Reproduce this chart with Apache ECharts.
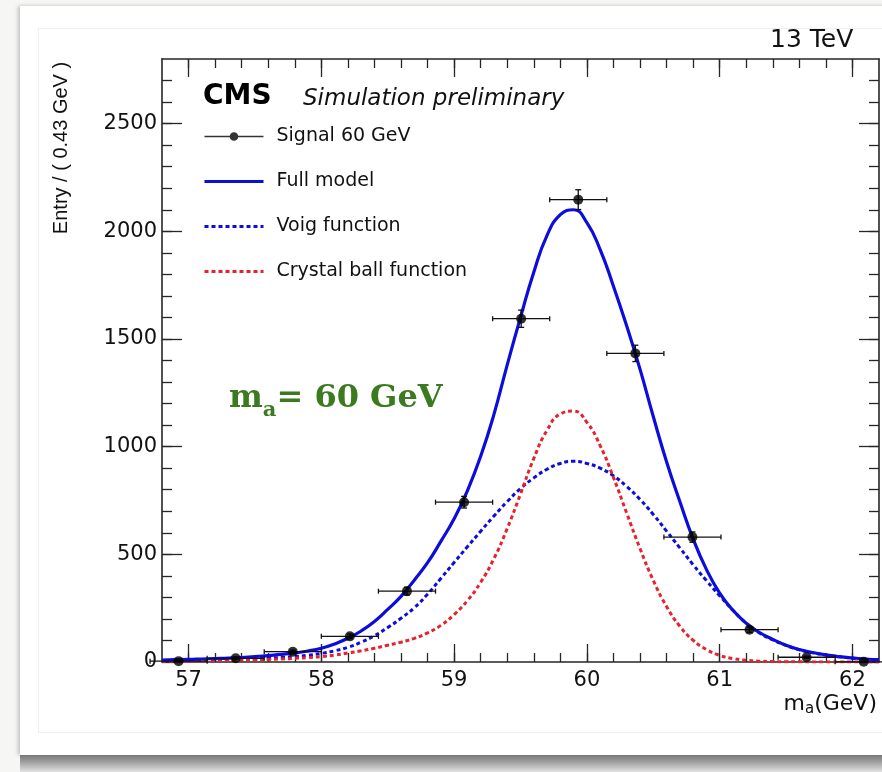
<!DOCTYPE html>
<html>
<head>
<meta charset="utf-8">
<title>m_a = 60 GeV</title>
<script src="https://cdn.jsdelivr.net/npm/echarts@6.0.0/dist/echarts.min.js"></script>
<style>
  html, body { margin: 0; padding: 0; width: 882px; height: 772px; overflow: hidden; background: #f6f6f4; }
  .card { position: absolute; left: 20px; top: 6px; width: 880px; height: 749px; background: #fff; box-shadow: -2px 0 4px rgba(0,0,0,0.22); }
  .card .frame { position: absolute; left: 18px; top: 22px; width: 900px; height: 703px; border: 1px solid #efefef; }
  .shadow { position: absolute; left: 20px; top: 755px; width: 880px; height: 17px; background: linear-gradient(to bottom, #777, #a4a4a4 45%, #e2e2e2); }
  #main { position: absolute; left: 0; top: 0; width: 882px; height: 772px; }
</style>
</head>
<body>
<div class="card"><div class="frame"></div></div>
<div class="shadow"></div>
<div id="main"></div>
<script>
// 模拟信号, 每个 bin 宽 0.43 GeV
var binCenters = [56.925, 57.355, 57.785, 58.215, 58.645, 59.075, 59.505, 59.935, 60.365, 60.795, 61.225, 61.655, 62.085];
var entries = [4, 17, 48, 119, 329, 742, 1594, 2147, 1433, 580, 150, 22, 1];
var entryErr = [2, 4, 7, 11, 18, 27, 40, 46, 38, 24, 12, 5, 1];
var binHalfWidth = 0.215;

// 拟合曲线
var curveX = [56.8, 56.9, 57.0, 57.1, 57.2, 57.3, 57.4, 57.5, 57.6, 57.7, 57.8, 57.9, 58.0, 58.1, 58.2, 58.3, 58.4, 58.5, 58.6, 58.7,
  58.8, 58.9, 59.0, 59.1, 59.2, 59.3, 59.4, 59.5, 59.6, 59.7, 59.8, 59.9, 60.0, 60.1, 60.2, 60.3, 60.4, 60.5, 60.6, 60.7,
  60.8, 60.9, 61.0, 61.1, 61.2, 61.3, 61.4, 61.5, 61.6, 61.7, 61.8, 61.9, 62.0, 62.1, 62.2];
var fullModel = [9, 11, 12, 14, 16, 18, 21, 25, 30, 35, 42, 51, 64, 84, 110, 144, 188, 244, 305, 380,
  461, 560, 665, 795, 955, 1150, 1380, 1600, 1810, 1981, 2077, 2100, 2040, 1915, 1745, 1560, 1360, 1140, 930, 745,
  572, 430, 320, 240, 180, 137, 105, 78, 58, 44, 33, 25, 19, 14, 11];
var voigFunc = [6, 7, 8, 9, 10, 11, 13, 15, 18, 21, 25, 31, 40, 52, 68, 92, 122, 160, 203, 252,
  315, 388, 462, 535, 607, 678, 745, 805, 855, 895, 922, 932, 922, 900, 865, 815, 755, 685, 608, 530,
  452, 378, 308, 240, 180, 135, 103, 77, 57, 43, 32, 24, 18, 13, 10];
var crystalBall = [3, 4, 4, 5, 6, 7, 8, 10, 12, 14, 17, 21, 25, 32, 42, 52, 64, 78, 92, 110,
  135, 170, 220, 285, 370, 480, 620, 780, 945, 1076, 1152, 1165, 1113, 1005, 857, 691, 527, 379, 258, 166,
  101, 58, 31, 16, 8, 4, 2, 1, 1, 0, 0, 0, 0, 0, 0];

// 坐标轴刻度
var xMajorTicks = [57, 58, 59, 60, 61, 62];
var xMinorTicks = [57, 57.2, 57.4, 57.6, 57.8, 58, 58.2, 58.4, 58.6, 58.8, 59, 59.2, 59.4, 59.6, 59.8,
  60, 60.2, 60.4, 60.6, 60.8, 61, 61.2, 61.4, 61.6, 61.8, 62];
var yMajorTicks = [0, 500, 1000, 1500, 2000, 2500];
var yMinorTicks = [100, 200, 300, 400, 500, 600, 700, 800, 900, 1000, 1100, 1200, 1300, 1400, 1500, 1600,
  1700, 1800, 1900, 2000, 2100, 2200, 2300, 2400, 2500, 2600, 2700];

var chart = echarts.init(document.getElementById('main'));

var axisColor = '#262626';
var font = 'DejaVu Sans';
var blue = '#0c0cdc';
var red = '#e4232c';

function pairs(xs, ys) {
  return xs.map(function (x, i) { return [x, ys[i]]; });
}

// 四边框坐标轴, 刻度朝内
function frameAxis(dim, position, ticks, len, showLine) {
  var isX = dim === 'x';
  return {
    type: 'value',
    position: position,
    min: isX ? 56.8 : 0,
    max: isX ? 62.2 : 2800,
    axisLine: { show: showLine, onZero: false, lineStyle: { color: axisColor, width: 1.6 } },
    axisTick: { show: true, inside: true, length: len, customValues: ticks, lineStyle: { color: axisColor, width: 1.3 } },
    axisLabel: { show: false },
    splitLine: { show: false }
  };
}

function plainLabel(v) {
  return String(v);
}

var xAxes = [
  frameAxis('x', 'bottom', xMajorTicks, 18, true),
  frameAxis('x', 'bottom', xMinorTicks, 9, false),
  frameAxis('x', 'top', xMajorTicks, 18, true),
  frameAxis('x', 'top', xMinorTicks, 9, false)
];
xAxes[0].axisLabel = { show: true, customValues: xMajorTicks, formatter: plainLabel, margin: 8, color: '#111', fontFamily: font, fontSize: 21 };

var yAxes = [
  frameAxis('y', 'left', yMajorTicks, 20, true),
  frameAxis('y', 'left', yMinorTicks, 10, false),
  frameAxis('y', 'right', yMajorTicks, 20, true),
  frameAxis('y', 'right', yMinorTicks, 10, false)
];
yAxes[0].axisLabel = { show: true, customValues: yMajorTicks, formatter: plainLabel, margin: 5, color: '#111', fontFamily: font, fontSize: 21 };

// 误差棒: 横向为 bin 宽, 纵向为统计误差
function renderErrorBar(params, api) {
  var x = api.value(0), y = api.value(1), e = api.value(2);
  var l = api.coord([x - binHalfWidth, y]);
  var r = api.coord([x + binHalfWidth, y]);
  var t = api.coord([x, y + e]);
  var b = api.coord([x, y - e]);
  var st = { stroke: '#111', lineWidth: 1.3 };
  function seg(x1, y1, x2, y2) {
    return { type: 'line', shape: { x1: x1, y1: y1, x2: x2, y2: y2 }, style: st };
  }
  return {
    type: 'group',
    children: [
      seg(l[0], l[1], r[0], r[1]),
      seg(l[0], l[1] - 2.5, l[0], l[1] + 2.5),
      seg(r[0], r[1] - 2.5, r[0], r[1] + 2.5),
      seg(t[0], t[1], b[0], b[1]),
      seg(t[0] - 3, t[1], t[0] + 3, t[1]),
      seg(b[0] - 3, b[1], b[0] + 3, b[1])
    ]
  };
}

var signalIcon = 'path://M0,5.3H60V6.7H0Z M30,1.6A4.4,4.4,0,1,1,29.99,1.6Z';

var option = {
  animation: false,
  backgroundColor: 'transparent',
  grid: { left: 162, right: 3, top: 59, bottom: 110, containLabel: false },
  xAxis: xAxes,
  yAxis: yAxes,
  legend: {
    orient: 'vertical',
    left: 203,
    top: 127,
    padding: 0,
    itemWidth: 59,
    itemHeight: 20,
    itemGap: 26,
    selectedMode: false,
    lineStyle: { width: 3 },
    formatter: '{t|{name}}',
    textStyle: {
      color: '#111', fontFamily: font, fontSize: 19,
      rich: { t: { color: '#111', fontFamily: font, fontSize: 19, padding: [0, 0, 0, 8] } }
    },
    data: [
      { name: 'Signal 60 GeV', icon: signalIcon, itemStyle: { color: '#000' } },
      { name: 'Full model', itemStyle: { opacity: 0 } },
      { name: 'Voig function', itemStyle: { opacity: 0 } },
      { name: 'Crystal ball function', itemStyle: { opacity: 0 } }
    ]
  },
  graphic: [
    {
      type: 'text', x: 770, y: 28,
      style: { text: '13 TeV', fill: '#111', font: '25px "DejaVu Sans"', align: 'left', verticalAlign: 'top' }
    },
    {
      type: 'text', x: 203, y: 97,
      style: { text: 'CMS', fill: '#000', font: 'bold 28px "DejaVu Sans"', align: 'left', verticalAlign: 'middle' }
    },
    {
      type: 'text', x: 303, y: 99,
      style: { text: 'Simulation preliminary', fill: '#111', font: 'italic 23px "DejaVu Sans"', align: 'left', verticalAlign: 'middle' }
    },
    {
      type: 'text', x: 61, y: 148, rotation: Math.PI / 2,
      style: { text: 'Entry / ( 0.43 GeV )', fill: '#111', font: '20px "Liberation Sans"', align: 'center', verticalAlign: 'middle' }
    },
    {
      type: 'text', x: 877, y: 695,
      style: {
        text: '{m|m}{s|a}{m|(GeV)}', align: 'right', verticalAlign: 'top',
        rich: {
          m: { fontFamily: font, fontSize: 22, lineHeight: 22, padding: [0, 0, 4, 0], fill: '#111' },
          s: { fontFamily: font, fontSize: 15, lineHeight: 15, verticalAlign: 'bottom', fill: '#111' }
        }
      }
    },
    {
      type: 'text', x: 229, y: 389,
      style: {
        text: '{m|m}{s|a}{m|= 60 GeV}', align: 'left', verticalAlign: 'top',
        rich: {
          m: { fontFamily: 'DejaVu Serif', fontWeight: 'bold', fontSize: 32, lineHeight: 32, padding: [0, 0, 13, 0], fill: '#3b7a1f' },
          s: { fontFamily: 'DejaVu Serif', fontWeight: 'bold', fontSize: 21, lineHeight: 21, verticalAlign: 'bottom', fill: '#3b7a1f' }
        }
      }
    }
  ],
  series: [
    {
      name: 'Full model', type: 'line', data: pairs(curveX, fullModel),
      smooth: true, symbol: 'none', color: blue,
      lineStyle: { color: blue, width: 3.2 }, z: 3
    },
    {
      name: 'Voig function', type: 'line', data: pairs(curveX, voigFunc),
      smooth: true, symbol: 'none', color: blue,
      lineStyle: { color: blue, width: 3, type: [4, 3] }, z: 2
    },
    {
      name: 'Crystal ball function', type: 'line', data: pairs(curveX, crystalBall),
      smooth: true, symbol: 'none', color: red,
      lineStyle: { color: red, width: 3, type: [4, 3] }, z: 2
    },
    {
      name: 'Signal 60 GeV', type: 'scatter', data: pairs(binCenters, entries),
      symbolSize: 10, itemStyle: { color: '#000' }, z: 5
    },
    {
      name: 'errors', type: 'custom', renderItem: renderErrorBar, clip: false,
      data: binCenters.map(function (x, i) { return [x, entries[i], entryErr[i]]; }), z: 4
    }
  ]
};

chart.setOption(option);
</script>
</body>
</html>
